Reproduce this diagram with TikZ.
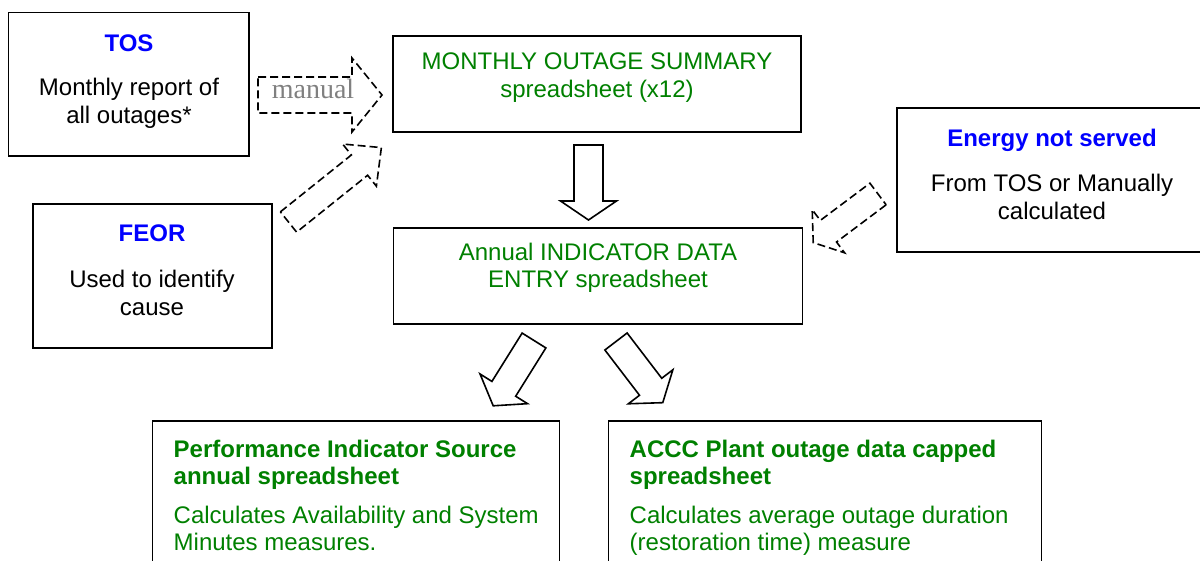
\documentclass[tikz,border=0pt]{standalone}
\usepackage{fontspec}
\setmainfont{Liberation Sans}
\newfontfamily\manualfont{Liberation Serif}
\definecolor{txtgreen}{RGB}{0,128,0}
\definecolor{txtblue}{RGB}{0,0,255}
\definecolor{manualgray}{RGB}{128,128,128}
\newcommand\blkarrow[7]{% #1 style, #2 tail point, #3 angle, #4 length, #5 half body, #6 head length, #7 half head
  \draw[#1, shift={#2}, rotate=#3] (0,-#5) -- (#4-#6,-#5) -- (#4-#6,-#7) -- (#4,0)
    -- (#4-#6,#7) -- (#4-#6,#5) -- (0,#5) -- cycle;}
\begin{document}
\begin{tikzpicture}[x=1pt,y=-1pt,
  box/.style={draw=black, line width=1.6pt, inner sep=0pt},
  txt/.style={inner sep=0pt, align=center, anchor=north, font=\fontsize{24}{27.6}\selectfont},
  ltxt/.style={inner sep=0pt, align=left, anchor=north west, font=\fontsize{24}{27.6}\selectfont, text=txtgreen},
  title/.style={font=\bfseries, text=txtblue},
  solidarrow/.style={draw=black, line width=1.6pt, line join=miter},
  dasharrow/.style={draw=black, line width=1.6pt, dash pattern=on 8pt off 4pt}]
\useasboundingbox (0,0) rectangle (1200,561);

% boxes
\node[box, minimum width=240.5pt, minimum height=143.5pt] (tos) at (128.75,84.25) {};
\node[box, minimum width=407.5pt, minimum height=96pt] (mos) at (597,83.75) {};
\node[box, minimum width=310pt, minimum height=144pt] (ens) at (1052,180.25) {};
\node[box, minimum width=239pt, minimum height=144pt] (feor) at (152.25,276.25) {};
\node[box, minimum width=409pt, minimum height=96pt] (ide) at (598,276.25) {};
\node[box, minimum width=407pt, minimum height=160pt] (pis) at (356,500.75) {};
\node[box, minimum width=433pt, minimum height=160pt] (accc) at (825,500.75) {};

% texts
\node[txt] (tostxt) at (129,31.7) {\strut{\bfseries\color{txtblue}TOS}\\[17pt]Monthly report of\\all outages*};
\node[txt, text=txtgreen] (mostxt) at (597,50.2) {\strut MONTHLY OUTAGE SUMMARY\\spreadsheet (x12)};
\node[txt] (enstxt) at (1052,126.7) {\strut{\bfseries\color{txtblue}Energy not served}\\[18pt]From TOS or Manually\\calculated};
\node[txt] (feortxt) at (152,222.4) {\strut{\bfseries\color{txtblue}FEOR}\\[18pt]Used to identify\\cause};
\node[txt, text=txtgreen] (idetxt) at (598,240.7) {\strut Annual INDICATOR DATA\\ENTRY spreadsheet};
\node[ltxt] (pistxt) at (173.5,437.7) {\strut\textbf{Performance Indicator Source}\\\textbf{annual spreadsheet}\\[10.9pt]Calculates Availability and System\\Minutes measures.};
\node[ltxt] (areatxt) at (629.5,437.7) {\strut\textbf{ACCC Plant outage data capped}\\\textbf{spreadsheet}\\[10.9pt]Calculates average outage duration\\(restoration time) measure};

% block arrows
\blkarrow{dasharrow}{(258,95)}{0}{124}{18}{30}{37}
\node[inner sep=0pt, anchor=base, font=\manualfont\fontsize{28}{32}\selectfont, text=manualgray] (manual) at (313,98.5) {manual};
\blkarrow{dasharrow}{(288.5,222)}{38.7}{119}{13}{28}{27}
\blkarrow{dasharrow}{(878,194)}{216.9}{81}{13.5}{19}{27}
\blkarrow{solidarrow}{(588.5,145)}{-90}{75}{14.5}{19}{28}
\blkarrow{solidarrow}{(534,340.5)}{238}{77}{14}{20}{28}
\blkarrow{solidarrow}{(616,341.5)}{-52.6}{77}{14}{20}{28}
\end{tikzpicture}
\end{document}
